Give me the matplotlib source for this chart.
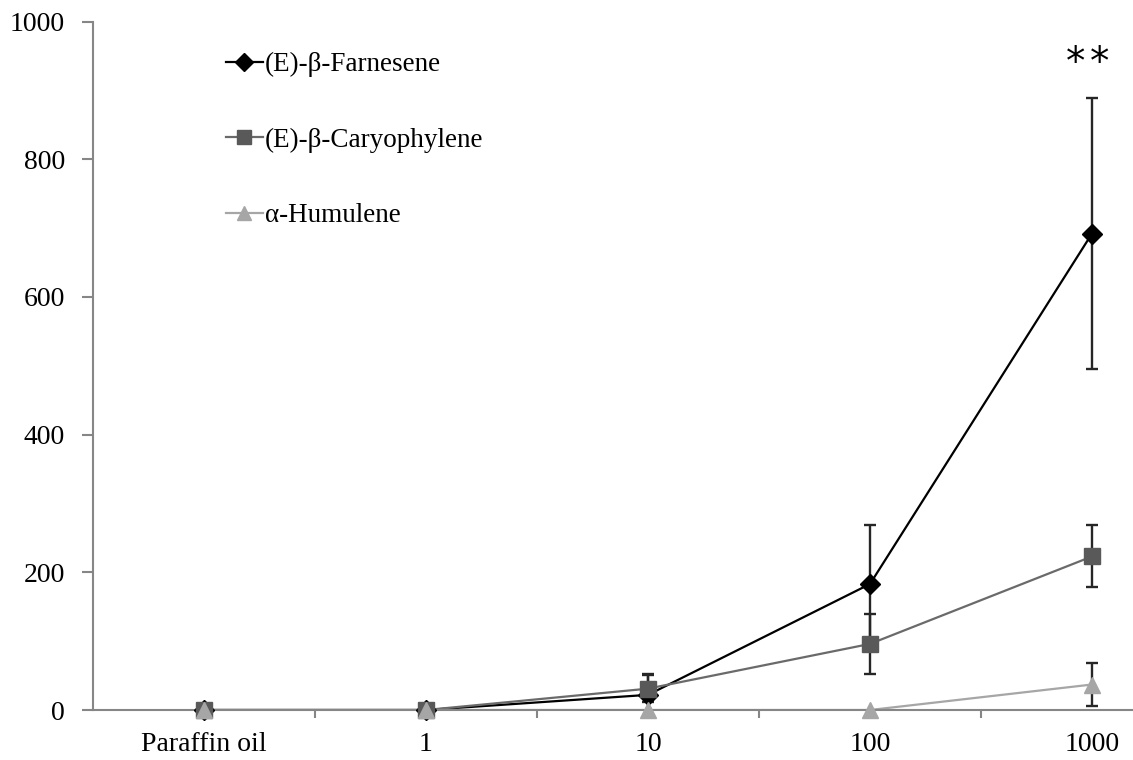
import numpy as np
import matplotlib
matplotlib.use('Agg')
import matplotlib.pyplot as plt
from matplotlib.lines import Line2D

# doses on the x axis
categories = ['Paraffin oil', '1', '10', '100', '1000']

# mean responses and error bars for each compound
farnesene = [0, 0, 22, 183, 692]
farnesene_err = [0, 0, 30, 86, 197]
caryophylene = [0, 0, 31, 96, 223]
caryophylene_err = [0, 0, 20, 44, 45]
humulene = [0, 0, 0, 0, 37]
humulene_err = [0, 0, 0, 0, 31]

labels = ['(E)-\u03b2-Farnesene', '(E)-\u03b2-Caryophylene', '\u03b1-Humulene']

plt.rcParams['font.family'] = ['Liberation Serif', 'DejaVu Serif']

fig = plt.figure(figsize=(11.33, 7.6), dpi=100)
ax = fig.add_axes([93 / 1133, 50 / 760, 1110 / 1133, 688.5 / 760])

x = np.arange(len(categories))

series = [
    (farnesene, farnesene_err, '#000000', '#000000', 'D', 10),
    (caryophylene, caryophylene_err, '#6a6a6a', '#595959', 's', 11),
    (humulene, humulene_err, '#a6a6a6', '#a6a6a6', '^', 11),
]

handles = []
for (y, err, lc, mc, mk, ms), lab in zip(series, labels):
    y = np.array(y)
    err = np.array(err)
    # error bars only where there is an error
    has = err > 0
    ax.errorbar(x[has], y[has], yerr=err[has], fmt='none', ecolor='#262626',
                elinewidth=1.7, capsize=4, capthick=1.7, zorder=2)
    # connecting line sits under the axis spine
    ax.plot(x, y, color=lc, lw=1.6, zorder=2)
    ax.plot(x, y, linestyle='none', marker=mk, markersize=ms, color=mc,
            markeredgecolor=mc, zorder=3, clip_on=False)
    handles.append(Line2D([0], [0], color=lc, lw=1.6, marker=mk,
                          markersize=ms - 1, markerfacecolor=mc, markeredgecolor=mc))

ax.set_xlim(-0.5, 4.5)
ax.set_ylim(0, 1000)
ax.set_yticks(np.arange(0, 1001, 200))
ax.set_xticks(x)
ax.set_xticklabels(categories)
ax.set_xticks([0.5, 1.5, 2.5, 3.5], minor=True)

for s in ['top', 'right']:
    ax.spines[s].set_visible(False)
for s in ['left', 'bottom']:
    ax.spines[s].set_color('#868686')
    ax.spines[s].set_linewidth(1.5)

ax.tick_params(axis='x', which='major', length=0, pad=16, labelsize=20)
ax.tick_params(axis='x', which='minor', length=6, width=1.5, color='#868686', direction='out')
ax.tick_params(axis='y', length=8, width=1.5, color='#868686', pad=12, labelsize=20)

# significance mark above the 1000 dose, two asterisks with a small gap
for xs in [3.928, 4.032]:
    ax.text(xs, 940, '*', ha='center', va='center', fontsize=28, family='DejaVu Sans')

fig.legend(handles, labels, loc='upper left', bbox_to_anchor=(226 / 1133, 1 - 52 / 760),
           frameon=False, fontsize=19.5, handlelength=1.35, handletextpad=0.08,
           labelspacing=1.86, borderpad=0, borderaxespad=0)

fig.savefig('out.png', dpi=100)
